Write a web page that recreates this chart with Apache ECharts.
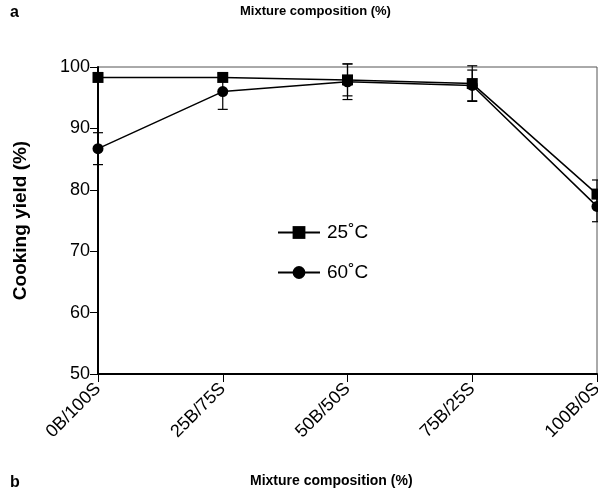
<!DOCTYPE html>
<html>
<head>
<meta charset="utf-8">
<script src="https://cdn.jsdelivr.net/npm/echarts@6/dist/echarts.min.js"></script>
<style>
  html, body { margin: 0; padding: 0; background: #fff; }
  #chart { width: 598px; height: 494px; }
</style>
</head>
<body>
<div id="chart"></div>
<script>
// mixture categories and cooking yield readings (%)
const categories = ["0B/100S", "25B/75S", "50B/50S", "75B/25S", "100B/0S"];
const yield25 = [98.3, 98.3, 97.9, 97.3, 79.3];
const yield60 = [86.7, 96.0, 97.6, 97.0, 77.3];
const err25 = [0, 0, 2.6, 2.9, 2.3];
const err60 = [2.6, 2.9, 2.9, 2.5, 2.5];
const yTicks = [50, 60, 70, 80, 90, 100];

const font = "Liberation Sans, Arial, sans-serif";

function errorSeries(values, errs) {
  const data = [];
  values.forEach((v, i) => {
    if (errs[i] > 0) data.push([i, v - errs[i], v + errs[i]]);
  });
  return {
    type: "custom",
    silent: true,
    z: 1,
    renderItem: function(params, api) {
      const lo = api.coord([api.value(0), api.value(1)]);
      const hi = api.coord([api.value(0), api.value(2)]);
      const w = 5;
      const style = { stroke: "#000", lineWidth: 1.2 };
      return {
        type: "group",
        children: [
          { type: "line", shape: { x1: lo[0], y1: lo[1], x2: hi[0], y2: hi[1] }, style: style },
          { type: "line", shape: { x1: lo[0] - w, y1: lo[1], x2: lo[0] + w, y2: lo[1] }, style: style },
          { type: "line", shape: { x1: hi[0] - w, y1: hi[1], x2: hi[0] + w, y2: hi[1] }, style: style }
        ]
      };
    },
    encode: { x: 0, y: [1, 2] },
    data: data
  };
}

const chart = echarts.init(document.getElementById("chart"));
const option = {
  animation: false,
  textStyle: { fontFamily: font },
  grid: {
    left: 98,
    right: 1,
    top: 67,
    bottom: 120,
    outerBoundsMode: "none",
    show: true,
    borderColor: "#555",
    borderWidth: 1
  },
  legend: {
    orient: "vertical",
    left: 272,
    top: 218,
    itemWidth: 42,
    itemHeight: 16,
    itemGap: 21,
    textStyle: { fontSize: 19, color: "#000", fontFamily: font, padding: [0, 0, 0, 2] },
    data: ["25˚C", "60˚C"]
  },
  graphic: [
    { type: "text", left: 10, top: 5, style: { text: "a", font: "bold 16px " + font, fill: "#000" } },
    { type: "text", left: 10, top: 475, style: { text: "b", font: "bold 16px " + font, fill: "#000" } },
    { type: "text", left: 240, top: 5, style: { text: "Mixture composition (%)", font: "bold 13px " + font, fill: "#000" } },
    { type: "text", left: 250, top: 474, style: { text: "Mixture composition (%)", font: "bold 14px " + font, fill: "#000" } }
  ],
  xAxis: {
    type: "category",
    boundaryGap: false,
    data: categories,
    axisLine: { lineStyle: { color: "#000", width: 2 } },
    axisTick: { length: 8, lineStyle: { color: "#000", width: 1 } },
    axisLabel: { rotate: 45, fontSize: 18, color: "#000", margin: 12, fontFamily: font },
    splitLine: { show: false }
  },
  yAxis: {
    type: "value",
    min: yTicks[0],
    max: yTicks[yTicks.length - 1],
    interval: 10,
    name: "Cooking yield (%)",
    nameLocation: "middle",
    nameGap: 68,
    nameTextStyle: { fontSize: 19, fontWeight: "bold", color: "#000", fontFamily: font },
    axisLine: { show: true, lineStyle: { color: "#000", width: 2 } },
    axisTick: { show: true, length: 8, lineStyle: { color: "#000", width: 1 } },
    axisLabel: { fontSize: 18, color: "#000", margin: 8, fontFamily: font },
    splitLine: { show: false }
  },
  series: [
    errorSeries(yield25, err25),
    errorSeries(yield60, err60),
    {
      name: "25˚C",
      type: "line",
      data: yield25,
      symbol: "rect",
      symbolSize: 11,
      z: 3,
      lineStyle: { color: "#000", width: 1.5 },
      itemStyle: { color: "#000" }
    },
    {
      name: "60˚C",
      type: "line",
      data: yield60,
      symbol: "circle",
      symbolSize: 11,
      z: 3,
      lineStyle: { color: "#000", width: 1.5 },
      itemStyle: { color: "#000" }
    }
  ]
};
chart.setOption(option);
window.addEventListener("resize", function() {
  chart.resize();
});
</script>
</body>
</html>
